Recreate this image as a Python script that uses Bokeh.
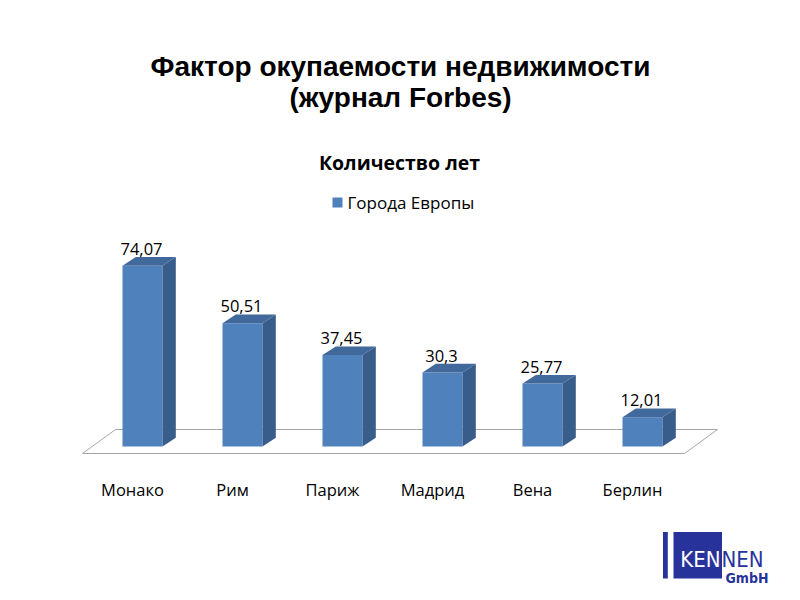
from bokeh.plotting import figure
from bokeh.models import Range1d
from bokeh.embed import file_html
from bokeh.resources import INLINE
from bokeh.core.properties import value

# ---- data ----
cities = ["Монако", "Рим", "Париж", "Мадрид", "Вена", "Берлин"]
years = [74.07, 50.51, 37.45, 30.3, 25.77, 12.01]
value_labels = ["74,07", "50,51", "37,45", "30,3", "25,77", "12,01"]
series_name = "Города Европы"
title_lines = ["Фактор окупаемости недвижимости", "(журнал Forbes)"]
chart_title = "Количество лет"

# ---- layout (image pixel -> data helpers) ----
X0, XS = 142.0, 100.0   # px of category 0 centre, px per category
Y0, YS = 446.0, 2.44    # px of value 0, px per unit


def dx(px):
    return (px - X0) / XS


def dy(py):
    return (Y0 - py) / YS


W, H = 784, 584
p = figure(width=W, height=H, output_backend="svg", toolbar_location=None,
           x_range=Range1d(dx(0), dx(W)), y_range=Range1d(dy(H), dy(0)),
           min_border=0, outline_line_color=None)
p.axis.visible = False
p.grid.visible = False
p.background_fill_color = "white"
p.border_fill_color = "white"

FRONT = "#4F81BD"
SIDE = "#385D8A"
TOP = "#41699B"
BW = 0.4
DDX = 13.3 / XS
DDY = 8.7 / YS

# floor
p.patch([dx(82), dx(684), dx(717), dx(115)], [dy(453), dy(453), dy(429), dy(429)],
        fill_color="white", line_color="#A6A6A6", line_width=1)

# bars
idx = list(range(len(years)))
lefts = [i - BW / 2 for i in idx]
rights = [i + BW / 2 for i in idx]
p.quad(left=lefts, right=rights, bottom=[0] * len(years), top=years,
       fill_color=FRONT, line_color=None)
side_xs = [[r, r + DDX, r + DDX, r] for r in rights]
side_ys = [[0, DDY, v + DDY, v] for v in years]
p.patches(side_xs, side_ys, fill_color=SIDE, line_color=None)
top_xs = [[l, r, r + DDX, l + DDX] for l, r in zip(lefts, rights)]
top_ys = [[v, v, v + DDY, v + DDY] for v in years]
p.patches(top_xs, top_ys, fill_color=TOP, line_color=None)

# value labels
p.text(x=[i - 0.01 for i in idx], y=[v + DDY + 0.9 for v in years], text=value_labels,
       text_font=value("Open Sans"), text_font_size="16.5px", text_color="#000000",
       text_align="center", text_baseline="bottom")

# category labels
p.text(x=[i - 0.1 for i in idx], y=[dy(489)] * len(idx), text=cities,
       text_font=value("Open Sans"), text_font_size="16.5px", text_color="#000000",
       text_align="center", text_baseline="middle")

# titles
p.text(x=[dx(400), dx(400)], y=[dy(66), dy(97)], text=title_lines,
       text_font=value("Liberation Sans"), text_font_style="bold",
       text_font_size="28px", text_color="#000000",
       text_align="center", text_baseline="middle")
p.text(x=[dx(399)], y=[dy(162)], text=[chart_title],
       text_font=value("Open Sans"), text_font_style="bold",
       text_font_size="19.5px", text_color="#000000",
       text_align="center", text_baseline="middle")

# legend
p.quad(left=[dx(332)], right=[dx(342)], bottom=[dy(207)], top=[dy(197)],
       fill_color=FRONT, line_color=None)
p.text(x=[dx(347)], y=[dy(202)], text=[series_name],
       text_font=value("Open Sans"), text_font_size="17px", text_color="#000000",
       text_align="left", text_baseline="middle")

# logo
LOGO = "#27339B"
p.quad(left=[dx(662.5), dx(673)], right=[dx(667.3), dx(721.5)],
       bottom=[dy(578), dy(578)], top=[dy(531.5), dy(531.5)],
       fill_color=LOGO, line_color=None)
p.text(x=[dx(720)], y=[dy(559)], text=["KEN"],
       text_font=value("DejaVu Sans Condensed"), text_font_size="22px",
       text_color="white", text_align="right", text_baseline="alphabetic")
p.text(x=[dx(721)], y=[dy(559)], text=["NEN"],
       text_font=value("DejaVu Sans Condensed"), text_font_size="22px",
       text_color=LOGO, text_align="left", text_baseline="alphabetic")
p.text(x=[dx(768)], y=[dy(577)], text=["GmbH"],
       text_font=value("DejaVu Sans Condensed"), text_font_style="bold",
       text_font_size="14px", text_color=LOGO, text_align="right",
       text_baseline="alphabetic")

open("out.html", "w").write(file_html(p, INLINE))
